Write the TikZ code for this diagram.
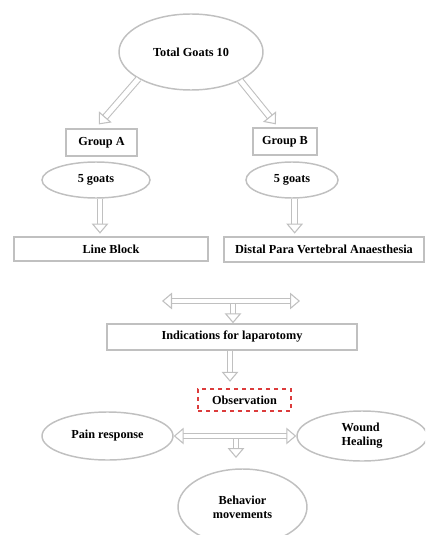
\documentclass[tikz,border=0pt]{standalone}
\usepackage{fontspec}
\setmainfont{Liberation Serif}
\usetikzlibrary{arrows.meta,shapes.geometric}
\definecolor{edgegray}{RGB}{192,192,192}
\definecolor{obsred}{RGB}{220,60,60}

\begin{document}
\begin{tikzpicture}[x=0.75pt,y=-0.75pt,
  font=\fontsize{9.2}{10.5}\selectfont\bfseries,
  box/.style={draw=edgegray, line width=1.1pt, rectangle, inner sep=0pt},
  oval/.style={draw=edgegray, line width=1.1pt, ellipse, inner sep=0pt, align=center},
  hollow/.style={draw=edgegray, line width=0.8pt, double=white, double distance=3.6pt, -{Triangle[open, length=7.5pt, width=12.5pt, fill=white]}},
  hollowboth/.style={hollow, {Triangle[open, length=7.5pt, width=12.5pt, fill=white]}-{Triangle[open, length=7.5pt, width=12.5pt, fill=white]}}]

\useasboundingbox (0,0) rectangle (425,535);
\clip (0,0) rectangle (425,535);

\node[oval, minimum width=108pt, minimum height=57pt] (total) at (191,52) {Total Goats 10};

\node[box, minimum width=53pt, minimum height=20pt] (grpA) at (101.5,142.5) {Group A};
\node[box, minimum width=48pt, minimum height=20pt] (grpB) at (285,141.5) {Group B};

\node[oval, minimum width=81pt, minimum height=27pt] (goatsA) at (96,180) {5 goats};
\node[oval, minimum width=69pt, minimum height=27pt] (goatsB) at (292,180) {5 goats};

\node[box, minimum width=145.5pt, minimum height=18pt] (line) at (111,249) {Line Block};
\node[box, minimum width=150pt, minimum height=18.75pt] (distal) at (324,249.5) {Distal Para Vertebral Anaesthesia};

\node[box, minimum width=187.5pt, minimum height=19.5pt] (indic) at (232,337) {Indications for laparotomy};

\node[draw=obsred, dashed, line width=0.8pt, rectangle, minimum width=69.75pt, minimum height=16.5pt] (obs) at (244.5,400) {Observation};

\node[oval, minimum width=98.25pt, minimum height=36pt] (pain) at (107.5,436) {Pain response};
\node[oval, minimum width=97.5pt, minimum height=37.5pt, align=left] (wound) at (362,436) {Wound\\Healing};
\node[oval, minimum width=96.75pt, minimum height=57pt] (behav) at (242.5,507) {Behavior\\movements};

\coordinate (jl) at (162,301);
\coordinate (jr) at (300,301);
\coordinate (jm) at (233,304);
\coordinate (pm) at (236,439);
\coordinate (pe) at (236,458);

\draw[hollow, shorten >=3pt] (total.207) -- ([xshift=-4pt]grpB.north -| grpA.north);
\draw[hollow, shorten >=3pt] (total.330) -- ([xshift=-5pt]grpB.north);
\draw[hollow, shorten >=2pt] ([xshift=3pt]goatsA.south) -- ([xshift=3pt]goatsA.south |- line.north);
\draw[hollow, shorten >=2pt] ([xshift=2pt]goatsB.south) -- ([xshift=2pt]goatsB.south |- distal.north);
\draw[hollowboth] (jl) -- (jr);
\draw[hollow] (jm) -- (jm |- indic.north);
\draw[hollow, shorten >=5pt] ([xshift=-1.5pt]indic.south) -- ([xshift=-1.5pt]indic.south |- obs.north);
\draw[hollowboth] (pain.east) -- (wound.west);
\draw[hollow] (pm) -- (pe);
\end{tikzpicture}
\end{document}
